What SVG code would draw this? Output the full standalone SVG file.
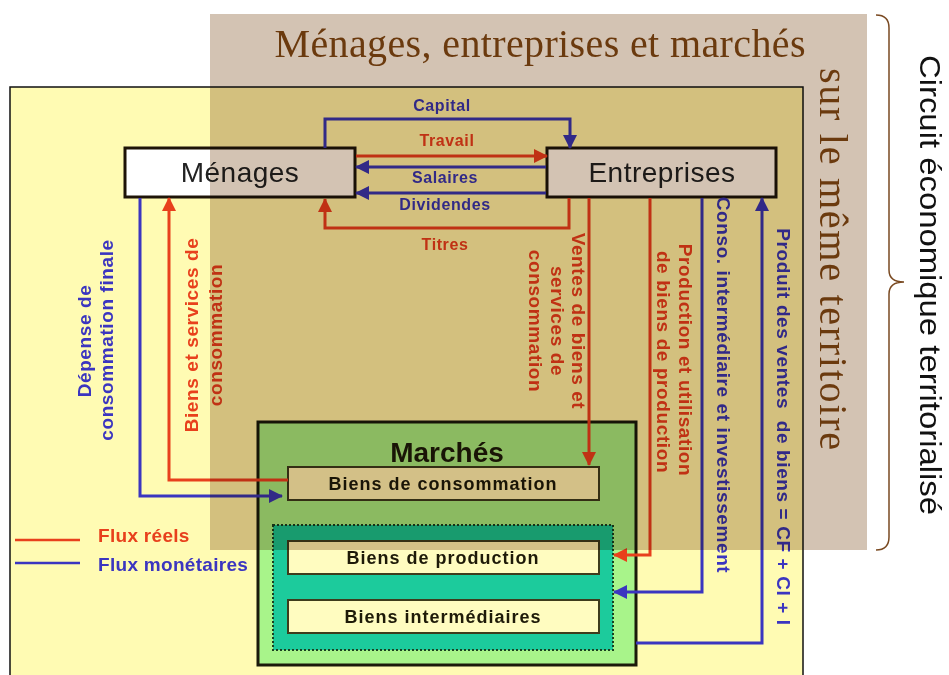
<svg xmlns="http://www.w3.org/2000/svg" width="949" height="675" viewBox="0 0 949 675">
<defs>
<style>
.bl{fill:none;stroke:#3b35c0;stroke-width:3}
.rd{fill:none;stroke:#e8401c;stroke-width:3}
.lb{font-family:"Liberation Sans",Arial,sans-serif;font-weight:bold;font-size:16px;letter-spacing:0.6px;text-anchor:middle}
.vl{font-family:"Liberation Sans",Arial,sans-serif;font-weight:bold;font-size:19px;letter-spacing:0.6px;text-anchor:middle}
.lg{font-family:"Liberation Sans",Arial,sans-serif;font-weight:bold;font-size:19px;letter-spacing:0.3px}
.tb{fill:#3b35c0}
.tr{fill:#e8401c}
.bx{font-family:"Liberation Sans",Arial,sans-serif;font-weight:bold;font-size:18px;letter-spacing:1px;text-anchor:middle;fill:#1e1a08}
.nd{font-family:"Liberation Sans",Arial,sans-serif;font-size:28px;letter-spacing:0.5px;text-anchor:middle;fill:#222}
.node{fill:#ffffff;stroke:#1e1408;stroke-width:3}
.inner{fill:#fffcc0;stroke:#3e3c1c;stroke-width:2}
.serif{font-family:"Liberation Serif","Times New Roman",serif;font-size:40px;fill:#6b3a0e}
</style>
<marker id="ab" viewBox="0 0 14 14" refX="13" refY="7" markerWidth="14" markerHeight="14" markerUnits="userSpaceOnUse" orient="auto"><path d="M0,0 L14,7 L0,14 z" fill="#3b35c0"/></marker>
<marker id="ar" viewBox="0 0 14 14" refX="13" refY="7" markerWidth="14" markerHeight="14" markerUnits="userSpaceOnUse" orient="auto"><path d="M0,0 L14,7 L0,14 z" fill="#e8401c"/></marker>
</defs>
<rect x="0" y="0" width="949" height="675" fill="#ffffff"/>
<rect x="10" y="87" width="793" height="600" fill="#fffbb3" stroke="#111" stroke-width="1.5"/>

<g id="marches">
<rect x="258" y="422" width="378" height="243" fill="#a8f48a" stroke="#1a1a0a" stroke-width="3"/>
<text x="447" y="462" font-family="Liberation Sans, Arial, sans-serif" font-weight="bold" font-size="28" text-anchor="middle" fill="#1e1a08">Marchés</text>
</g>
<g id="biens-consommation">
<rect class="inner" x="288" y="467" width="311" height="33"/>
<text class="bx" x="443" y="490">Biens de consommation</text>
</g>
<g id="groupe-production">
<rect x="273" y="525" width="340" height="125" fill="#1ccb9c" stroke="#1a4020" stroke-width="2" stroke-dasharray="2 2"/>
</g>
<g id="biens-production">
<rect class="inner" x="288" y="541" width="311" height="33"/>
<text class="bx" x="443" y="564">Biens de production</text>
</g>
<g id="biens-intermediaires">
<rect class="inner" x="288" y="600" width="311" height="33"/>
<text class="bx" x="443" y="623">Biens intermédiaires</text>
</g>

<g id="menages">
<rect class="node" x="125" y="148" width="230" height="49"/>
<text class="nd" x="240" y="182">Ménages</text>
</g>
<g id="entreprises">
<rect class="node" x="547" y="148" width="229" height="49"/>
<text class="nd" x="662" y="182">Entreprises</text>
</g>

<g id="connectors">
<path class="bl" d="M325,148 V119 H570 V148" marker-end="url(#ab)"/>
<path class="rd" d="M356,156 H547" marker-end="url(#ar)"/>
<path class="bl" d="M546,167 H356" marker-end="url(#ab)"/>
<path class="bl" d="M546,193 H356" marker-end="url(#ab)"/>
<path class="rd" d="M569,198 V228 H325 V199" marker-end="url(#ar)"/>
<path class="rd" d="M589,198 V465" marker-end="url(#ar)"/>
<path class="rd" d="M650,198 V555 H614" marker-end="url(#ar)"/>
<path class="bl" d="M702,198 V592 H614" marker-end="url(#ab)"/>
<path class="bl" d="M636,643 H762 V198" marker-end="url(#ab)"/>
<path class="bl" d="M140,198 V496 H282" marker-end="url(#ab)"/>
<path class="rd" d="M288,480 H169 V198" marker-end="url(#ar)"/>

<text class="lb tb" x="442" y="111">Capital</text>
<text class="lb tr" x="447" y="146">Travail</text>
<text class="lb tb" x="445" y="183">Salaires</text>
<text class="lb tb" x="445" y="210">Dividendes</text>
<text class="lb tr" x="445" y="250">Titres</text>

<text class="vl tb" transform="translate(91,341) rotate(-90)">Dépense de</text>
<text class="vl tb" transform="translate(113,340) rotate(-90)">consommation finale</text>
<text class="vl tr" transform="translate(198,335) rotate(-90)">Biens et services de</text>
<text class="vl tr" transform="translate(222,335) rotate(-90)">consommation</text>

<text class="vl tr" transform="translate(572,321) rotate(90)">Ventes de biens et</text>
<text class="vl tr" transform="translate(551,321) rotate(90)">services de</text>
<text class="vl tr" transform="translate(529,321) rotate(90)">consommation</text>
<text class="vl tr" transform="translate(679,360) rotate(90)">Production et utilisation</text>
<text class="vl tr" transform="translate(657,362) rotate(90)">de biens de production</text>
<text class="vl tb" transform="translate(717,385) rotate(90)">Conso. intermédiaire et investissement</text>
<text class="vl tb" transform="translate(777,427) rotate(90)" xml:space="preserve">Produit des ventes  de biens = CF + CI + I</text>
</g>

<g id="legende">
<line x1="15" y1="540" x2="80" y2="540" stroke="#e8401c" stroke-width="2.5"/>
<line x1="15" y1="563" x2="80" y2="563" stroke="#3b35c0" stroke-width="2.5"/>
<text class="lg tr" x="98" y="542">Flux réels</text>
<text class="lg tb" x="98" y="571">Flux monétaires</text>
</g>

<rect x="210" y="14" width="657" height="536" fill="#d3c3b3" style="mix-blend-mode:multiply"/>
<text class="serif" x="540" y="57" text-anchor="middle" textLength="531" lengthAdjust="spacing">Ménages, entreprises et marchés</text>
<text class="serif" transform="translate(820,259) rotate(90)" text-anchor="middle" textLength="382" lengthAdjust="spacing">sur le même territoire</text>
<path d="M876,15 Q889,15 889,28 V270 Q889,282 904,282 Q889,282 889,294 V537 Q889,550 876,550" fill="none" stroke="#7a4a22" stroke-width="1.5"/>
<text transform="translate(920,285) rotate(90)" font-family="Liberation Sans, Arial, sans-serif" font-size="30" fill="#111" text-anchor="middle" textLength="460" lengthAdjust="spacingAndGlyphs">Circuit économique territorialisé</text>
</svg>
